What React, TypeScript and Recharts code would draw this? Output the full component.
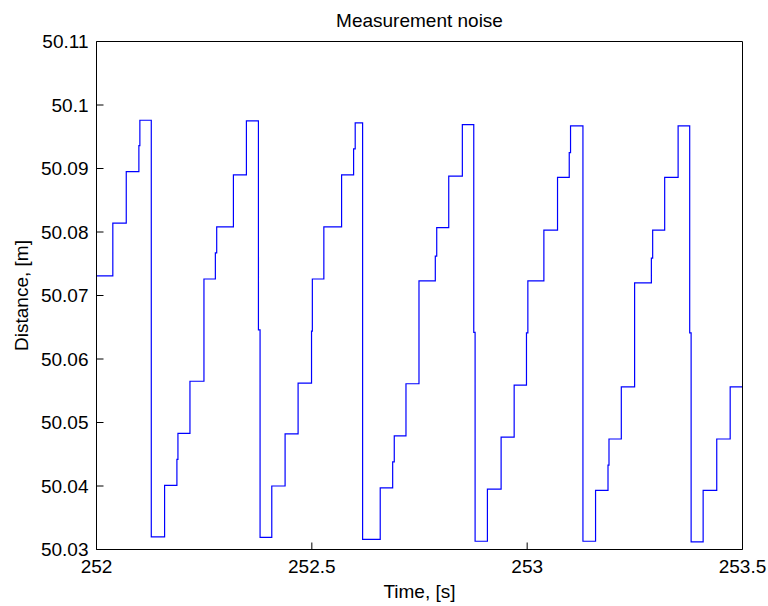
import React from 'react';
import { LineChart, Line, XAxis, YAxis } from 'recharts';

const FONT = '"Liberation Sans", Arial, Helvetica, sans-serif';

const chartTitle = 'Measurement noise';
const xLabel = 'Time, [s]';
const yLabel = 'Distance, [m]';

const xTicks = [252, 252.5, 253, 253.5];
const yTicks = [50.03, 50.04, 50.05, 50.06, 50.07, 50.08, 50.09, 50.1, 50.11];

const times = [
  252.0, 252.0379, 252.0691, 252.0984, 252.1007, 252.1272, 252.1581, 252.1867, 252.1891, 252.217,
  252.2495, 252.276, 252.2791, 252.3179, 252.3481, 252.376, 252.3798, 252.407, 252.4379, 252.4681,
  252.4993, 252.5012, 252.5279, 252.5691, 252.597, 252.6007, 252.6179, 252.6588, 252.6877, 252.6914,
  252.7186, 252.7488, 252.7867, 252.79, 252.8179, 252.8495, 252.876, 252.8791, 252.9077, 252.9395,
  252.9698, 252.9984, 253.0016, 253.0388, 253.0705, 253.0977, 253.1007, 253.1295, 253.1588, 253.1877,
  253.19, 253.2186, 253.2495, 253.2884, 253.2914, 253.3193, 253.3505, 253.3774, 253.3807, 253.4086,
  253.4402, 253.4714, 253.5,
];

const distances = [
  50.0731, 50.0814, 50.0895, 50.0936, 50.0976, 50.032, 50.0401, 50.0442, 50.0483, 50.0565,
  50.0726, 50.0767, 50.0808, 50.089, 50.0975, 50.0646, 50.0319, 50.04, 50.0482, 50.0562,
  50.0644, 50.0726, 50.0808, 50.089, 50.0931, 50.0972, 50.0316, 50.0397, 50.0438, 50.0479,
  50.0561, 50.0723, 50.0762, 50.0807, 50.0888, 50.0969, 50.0642, 50.0313, 50.0395, 50.0477,
  50.0559, 50.0641, 50.0723, 50.0803, 50.0886, 50.0925, 50.0967, 50.0313, 50.0393, 50.0433,
  50.0474, 50.0556, 50.072, 50.0759, 50.0803, 50.0886, 50.0967, 50.0641, 50.0312, 50.0393,
  50.0474, 50.0556, 50.0556,
];

const rows = times.map((t, i) => ({ t, d: distances[i] }));

const fmt = (v: number) => String(Number(v.toFixed(2)));

const tickStyle = { fill: '#000', fontSize: 19, fontFamily: FONT };
const axisStroke = { stroke: '#000', strokeWidth: 1 };

export default function App() {
  return (
    <div style={{ position: 'absolute', left: 0, top: 0, width: 768, height: 606, background: '#fff' }}>
      <svg width={768} height={40} style={{ position: 'absolute', left: 0, top: 0 }}>
        <text x={419.5} y={27} textAnchor="middle" fontSize={19} fontFamily={FONT} fill="#000">
          {chartTitle}
        </text>
      </svg>
      <LineChart
        width={768}
        height={606}
        data={rows}
        margin={{ top: 31.5, right: 15.5, bottom: 0, left: 0 }}
        style={{ fontFamily: FONT, position: 'absolute', left: 0, top: 0 }}
      >
        <XAxis
          xAxisId="bottom"
          dataKey="t"
          type="number"
          domain={[252, 253.5]}
          ticks={xTicks}
          interval={0}
          height={56.5}
          tickSize={-7}
          tickMargin={17}
          tickFormatter={fmt}
          tick={tickStyle}
          axisLine={axisStroke}
          tickLine={axisStroke}
          allowDataOverflow
          label={{ value: xLabel, position: 'insideBottom', offset: 8, fill: '#000', fontSize: 19, fontFamily: FONT }}
        />
        <XAxis
          xAxisId="top"
          orientation="top"
          dataKey="t"
          type="number"
          domain={[252, 253.5]}
          ticks={xTicks}
          interval={0}
          height={10}
          tickSize={-7}
          tick={false}
          axisLine={axisStroke}
          tickLine={axisStroke}
          allowDataOverflow
        />
        <YAxis
          yAxisId="left"
          type="number"
          domain={[50.03, 50.11]}
          ticks={yTicks}
          interval={0}
          width={96.5}
          tickSize={-7}
          tickMargin={15}
          tickFormatter={fmt}
          tick={tickStyle}
          axisLine={axisStroke}
          tickLine={axisStroke}
          allowDataOverflow
          label={{
            value: yLabel,
            angle: -90,
            position: 'insideLeft',
            offset: 20.8,
            fill: '#000',
            fontSize: 19,
            fontFamily: FONT,
            style: { textAnchor: 'middle' },
          }}
        />
        <YAxis
          yAxisId="right"
          orientation="right"
          type="number"
          domain={[50.03, 50.11]}
          ticks={yTicks}
          interval={0}
          width={10}
          tickSize={-7}
          tick={false}
          axisLine={axisStroke}
          tickLine={axisStroke}
          allowDataOverflow
        />
        <Line
          xAxisId="bottom"
          yAxisId="left"
          type="stepAfter"
          dataKey="d"
          stroke="#0000ff"
          strokeWidth={1.2}
          dot={false}
          activeDot={false}
          isAnimationActive={false}
        />
        <Line
          xAxisId="top"
          yAxisId="right"
          type="stepAfter"
          dataKey="d"
          stroke="none"
          dot={false}
          activeDot={false}
          legendType="none"
          isAnimationActive={false}
        />
      </LineChart>
    </div>
  );
}
